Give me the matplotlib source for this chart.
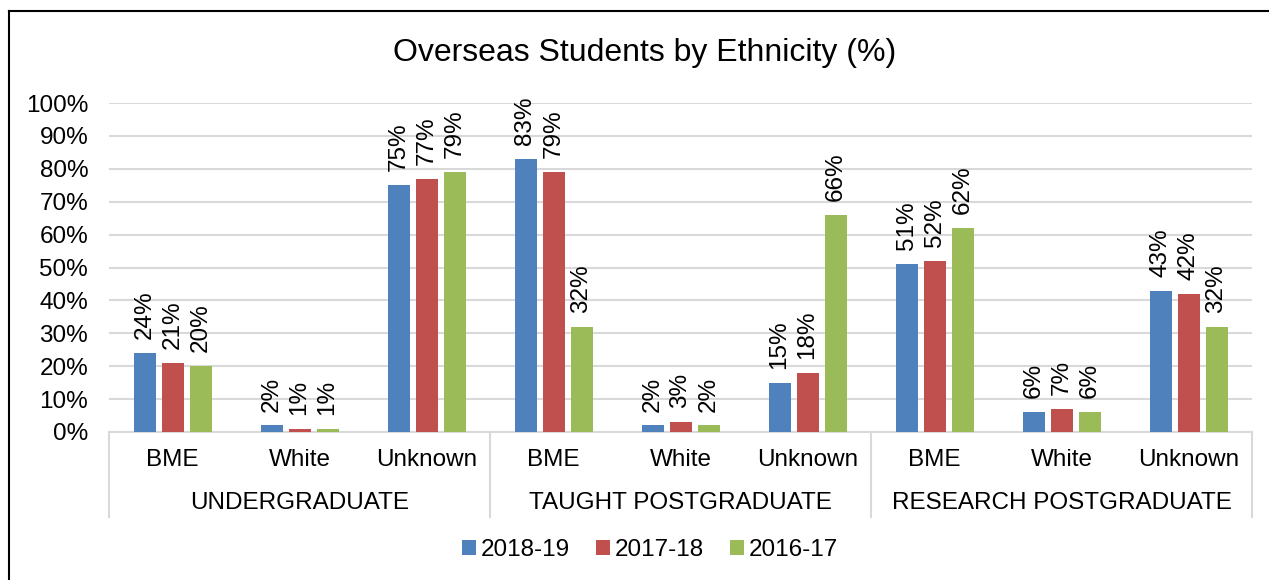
import matplotlib
matplotlib.use("Agg")
import matplotlib.pyplot as plt
from matplotlib.lines import Line2D
from matplotlib.patches import Patch
import numpy as np

plt.rcParams["font.family"] = ["Liberation Sans", "DejaVu Sans"]

groups = ["UNDERGRADUATE", "TAUGHT POSTGRADUATE", "RESEARCH POSTGRADUATE"]
ethnicities = ["BME", "White", "Unknown"]
series_names = ["2018-19", "2017-18", "2016-17"]
colors = ["#4F81BD", "#C0504D", "#9BBB59"]

# values in %, order: UG (BME, White, Unknown), TPG (...), RPG (...)
vals_1819 = [24, 2, 75, 83, 2, 15, 51, 6, 43]
vals_1718 = [21, 1, 77, 79, 3, 18, 52, 7, 42]
vals_1617 = [20, 1, 79, 32, 2, 66, 62, 6, 32]
series_vals = [vals_1819, vals_1718, vals_1617]

FS = 17.5

W, H = 1269, 580
fig = plt.figure(figsize=(W / 100, H / 100), dpi=100)
left, right, top, bottom = 109, 1252, 103, 432
ax = fig.add_axes([left / W, 1 - bottom / H, (right - left) / W, (bottom - top) / H])

n = len(vals_1819)
x = np.arange(n)
bar_w = 22 / 127
pitch = 28 / 127
for i, (name, vals, c) in enumerate(zip(series_names, series_vals, colors)):
    xs = x + (i - 1) * pitch
    ax.bar(xs, vals, width=bar_w, color=c, zorder=3)
    for xi, v in zip(xs, vals):
        ax.annotate(f"{v}%", (xi, v), xytext=(0, 10), textcoords="offset points",
                    rotation=90, ha="center", va="bottom", fontsize=FS)

ax.set_xlim(-0.5, n - 0.5)
ax.set_ylim(0, 100)
ax.set_yticks(np.arange(0, 101, 10))
ax.set_yticklabels([f"{t}%" for t in range(0, 101, 10)], fontsize=FS)
ax.tick_params(axis="y", length=0, pad=15)
ax.set_xticks([])
ax.grid(axis="y", color="#D9D9D9", linewidth=1.5, zorder=0)
for s in ["left", "right", "top"]:
    ax.spines[s].set_visible(False)
ax.spines["bottom"].set_color("#D9D9D9")
ax.spines["bottom"].set_linewidth(1.5)

# category and group labels below the axis
for i in range(n):
    ax.text(i, -28 / 329 * 100, ethnicities[i % 3], ha="center", va="center",
            fontsize=FS, clip_on=False)
for g, name in enumerate(groups):
    ax.text(3 * g + 1, -71 / 329 * 100, name, ha="center", va="center",
            fontsize=FS, clip_on=False)
for g in range(4):
    xb = 3 * g - 0.5
    ax.plot([xb, xb], [0, -85 / 329 * 100], color="#D9D9D9", linewidth=1.5,
            clip_on=False)

fig.text(645 / W, 1 - 53 / H, "Overseas Students by Ethnicity (%)",
         ha="center", va="center", fontsize=23)

handles = [Patch(facecolor=c) for c in colors]
fig.legend(handles, series_names, loc="center", bbox_to_anchor=(650 / W, 1 - 550 / H),
           ncol=3, frameon=False, fontsize=FS, handlelength=0.55, handleheight=0.55,
           handletextpad=0.2, columnspacing=1.1)

# outer chart frame (left and top edges visible)
fig.add_artist(Line2D([9 / W, 9 / W], [0, 1 - 11 / H], color="black", linewidth=1.5))
fig.add_artist(Line2D([9 / W, 1], [1 - 11 / H, 1 - 11 / H], color="black", linewidth=1.5))

fig.savefig("out.png", dpi=100)
